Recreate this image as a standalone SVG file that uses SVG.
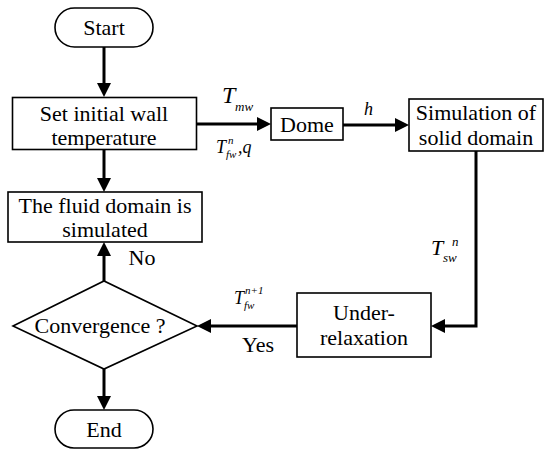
<svg xmlns="http://www.w3.org/2000/svg" width="550" height="456" viewBox="0 0 550 456">
<defs>
<marker id="ah" markerUnits="userSpaceOnUse" markerWidth="16" markerHeight="16" refX="8" refY="7" orient="auto">
<path d="M0,0 L14,7 L0,14 z" fill="#000"/>
</marker>
<style>
.box{fill:#fff;stroke:#000;stroke-width:1.6}
.t{font-size:22px;fill:#000;text-anchor:middle}
.m{font-style:italic;fill:#000}
.c{fill:none;stroke:#000;stroke-width:3}
</style>
</defs>
<rect width="550" height="456" fill="#fff"/>
<g id="connectors">
<line class="c" x1="104" y1="47" x2="104" y2="91" marker-end="url(#ah)"/>
<line class="c" x1="104" y1="150" x2="104" y2="186" marker-end="url(#ah)"/>
<line class="c" x1="197" y1="124" x2="265" y2="124" marker-end="url(#ah)"/>
<line class="c" x1="343" y1="125" x2="403" y2="125" marker-end="url(#ah)"/>
<path class="c" d="M476,151 V326 H437" marker-end="url(#ah)"/>
<line class="c" x1="297" y1="326" x2="203" y2="326" marker-end="url(#ah)"/>
<line class="c" x1="104" y1="281" x2="104" y2="248" marker-end="url(#ah)"/>
<line class="c" x1="104" y1="369" x2="104" y2="404" marker-end="url(#ah)"/>
</g>
<g font-family="Liberation Serif, Times New Roman, serif">
<g id="labels">
<text class="m" x="222" y="103" font-size="24">T</text>
<text class="m" x="235" y="111" font-size="13">mw</text>
<text class="m" x="216" y="153" font-size="18">T</text>
<text class="m" x="228" y="144" font-size="11">n</text>
<text class="m" x="226" y="158" font-size="11">fw</text>
<text class="m" x="238" y="153" font-size="18">,q</text>
<text class="m" x="364" y="115" font-size="18">h</text>
<text class="m" x="431" y="255" font-size="22">T</text>
<text class="m" x="452" y="246" font-size="13">n</text>
<text class="m" x="443" y="262" font-size="13">sw</text>
<text class="m" x="234" y="304" font-size="18">T</text>
<text class="m" x="245" y="294" font-size="11">n+1</text>
<text class="m" x="244" y="309" font-size="11">fw</text>
<text class="t" x="142" y="265">No</text>
<text class="t" x="258" y="352">Yes</text>
</g>
<g id="start">
<rect class="box" x="55" y="8" width="98" height="39" rx="19.5"/>
<text class="t" x="104" y="35">Start</text>
</g>
<g id="set">
<rect class="box" x="12.5" y="97.5" width="184" height="52"/>
<text class="t" x="104" y="121">Set initial wall</text>
<text class="t" x="104" y="145">temperature</text>
</g>
<g id="fluid">
<rect class="box" x="8" y="192" width="194" height="50"/>
<text class="t" x="105" y="213">The fluid domain is</text>
<text class="t" x="105" y="237">simulated</text>
</g>
<g id="dome">
<rect class="box" x="271" y="108" width="72" height="32"/>
<text class="t" x="307" y="132">Dome</text>
</g>
<g id="solid">
<rect class="box" x="409" y="99" width="134" height="52"/>
<text class="t" x="476" y="120">Simulation of</text>
<text class="t" x="476" y="145">solid domain</text>
</g>
<g id="under">
<rect class="box" x="297" y="293" width="134" height="64"/>
<text class="t" x="364" y="320">Under-</text>
<text class="t" x="364" y="345">relaxation</text>
</g>
<g id="convergence">
<polygon class="box" points="13,326 104,281 197,326 104,369"/>
<text class="t" x="100" y="333">Convergence ?</text>
</g>
<g id="end">
<rect class="box" x="55" y="410" width="98" height="38" rx="19"/>
<text class="t" x="104" y="437">End</text>
</g>
</g>
</svg>
